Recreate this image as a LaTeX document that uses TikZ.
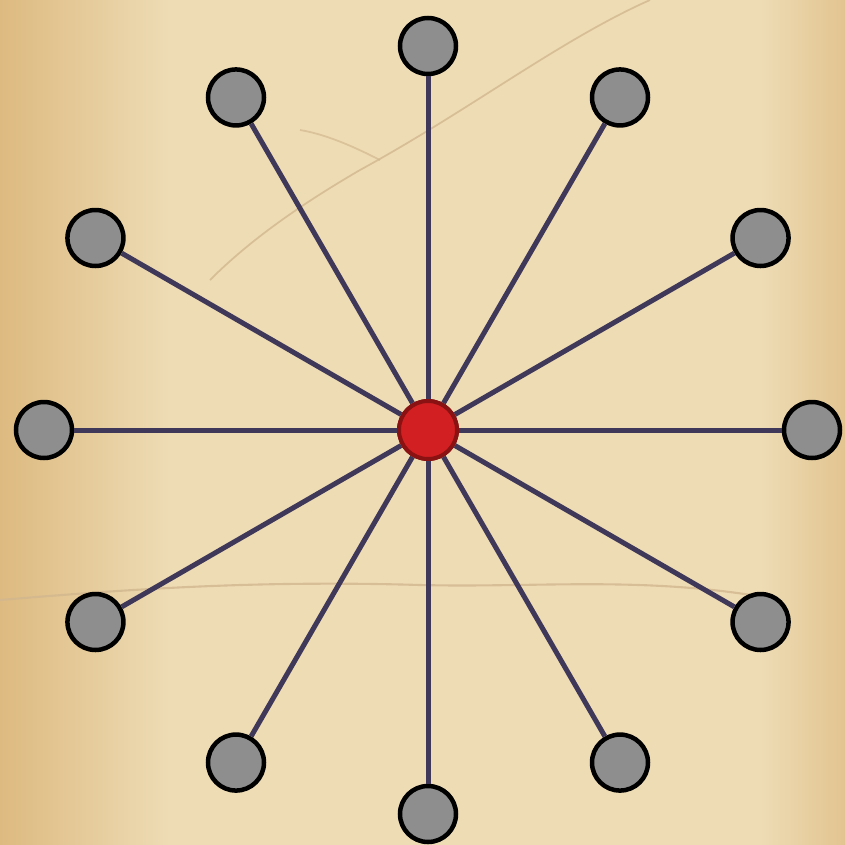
\documentclass[tikz,border=0pt]{standalone}
\definecolor{paper}{HTML}{EEDCB5}
\definecolor{paperdark}{HTML}{DDBA80}
\definecolor{crack}{HTML}{D2B78F}
\definecolor{edgecol}{HTML}{403859}
\definecolor{leaffill}{HTML}{8E8E8E}
\definecolor{hubfill}{HTML}{D21F22}
\definecolor{hubline}{HTML}{8A1212}
\tikzset{
  leaf/.style={circle, draw=black, line width=4.5pt*0.2845, fill=leaffill, minimum size=56*0.01cm, inner sep=0pt},
  hub/.style={circle, draw=hubline, line width=4pt*0.2845, fill=hubfill, minimum size=58*0.01cm, inner sep=0pt},
  spoke/.style={draw=edgecol, line width=5pt*0.2845},
}
\begin{document}
\begin{tikzpicture}[x=0.01cm, y=-0.01cm]
\useasboundingbox (0,0) rectangle (845,845);
\fill[paper] (0,0) rectangle (845,845);
\shade[left color=paperdark, right color=paper] (0,0) rectangle (170,845);
\shade[left color=paper, right color=paperdark!70!paper] (760,0) rectangle (845,845);
\draw[crack, line width=0.5pt, opacity=0.8] (650,0) .. controls (560,40) and (470,110) .. (360,170) .. controls (300,205) and (250,240) .. (210,280);
\draw[crack, line width=0.5pt, opacity=0.7] (300,130) .. controls (330,135) and (360,150) .. (380,160);
\draw[crack, line width=0.6pt, opacity=0.8] (0,600) .. controls (120,590) and (250,580) .. (420,585) .. controls (540,588) and (650,575) .. (780,600);
\node[hub] (c) at (428,430) {};
\foreach \i in {0,...,11} {
  \pgfmathsetmacro{\ang}{90-30*\i}
  \node[leaf] (n\i) at ({428+384*cos(\ang)},{430-384*sin(\ang)}) {};
}
\foreach \i in {0,...,11} {
  \draw[spoke] (c) -- (n\i);
}
\node[hub] at (c) {};
\end{tikzpicture}
\end{document}
